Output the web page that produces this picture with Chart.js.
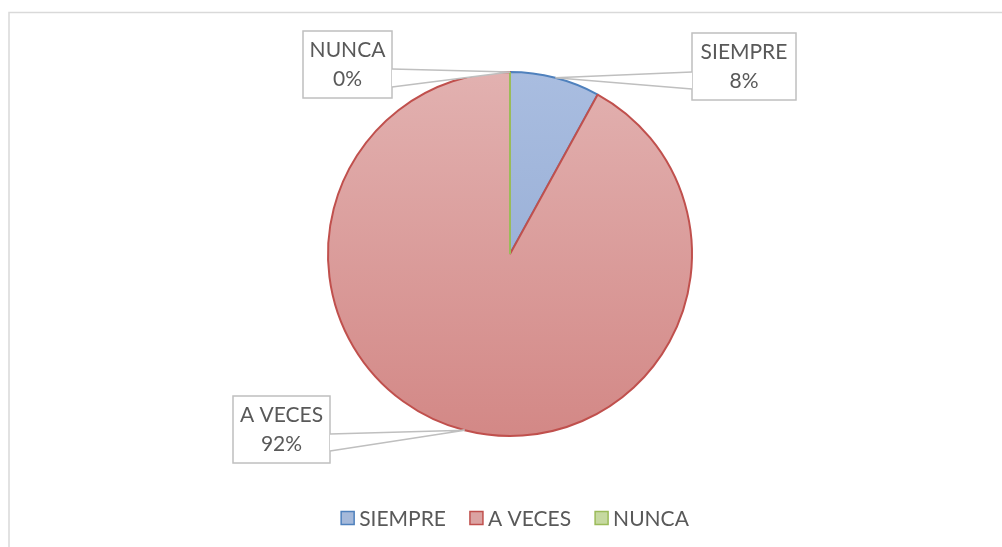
<!DOCTYPE html>
<html><head><meta charset="utf-8">
<script src="https://cdn.jsdelivr.net/npm/chart.js@4.4.0/dist/chart.umd.min.js"></script>
<style>html,body{margin:0;padding:0;background:#fff;} canvas{display:block;}</style>
</head><body>
<canvas id="c" width="1002" height="547"></canvas>
<script>
// ---- data ----
const categories = ['SIEMPRE', 'A VECES', 'NUNCA'];
const values = [2, 23, 0];

// ---- styles ----
const borderColors = ['#4f81bd', '#c0504d', '#9bbb59'];
const gradTop = ['#a9bde0', '#e2b1b0', '#d3e3b4'];
const gradBottom = ['#8ea6d0', '#d38886', '#b3cc80'];
const legendFill = ['#a5b9da', '#dba3a2', '#c6d9a0'];
const FONT = '"Lato", "Open Sans", sans-serif';
const TEXT_COLOR = '#595959';
const LABEL_SIZE = 21;
const PIE_RADIUS = 182;

// callout box layout (pixels), per category index
const calloutLayout = [
  {x: 692, y: 33, w: 104, h: 67, side: 'left', a: 72, b: 89},
  {x: 233, y: 396, w: 97, h: 67, side: 'right', a: 434, b: 451},
  {x: 303, y: 31, w: 89, h: 67, side: 'right', a: 69, b: 87}
];

function sliceFill(ctx) {
  const i = ctx.dataIndex;
  const chart = ctx.chart;
  const ca = chart.chartArea;
  if (!ca || i === undefined) return gradTop[i || 0];
  const cy = (ca.top + ca.bottom) / 2;
  const g = chart.ctx.createLinearGradient(0, cy - PIE_RADIUS, 0, cy + PIE_RADIUS);
  g.addColorStop(0, gradTop[i]);
  g.addColorStop(1, gradBottom[i]);
  return g;
}

const framePlugin = {
  id: 'frame',
  beforeDraw(chart) {
    const c = chart.ctx;
    c.save();
    c.fillStyle = '#ffffff';
    c.fillRect(0, 0, chart.width, chart.height);
    c.strokeStyle = '#d9d9d9';
    c.lineWidth = 1.5;
    c.beginPath();
    c.moveTo(9, chart.height + 2);
    c.lineTo(9, 12.5);
    c.lineTo(chart.width + 2, 12.5);
    c.stroke();
    c.restore();
  }
};

const zeroSlicePlugin = {
  id: 'zeroSlices',
  afterDatasetsDraw(chart) {
    const meta = chart.getDatasetMeta(0);
    const c = chart.ctx;
    meta.data.forEach((arc, i) => {
      if (values[i] !== 0) return;
      const p = arc.getProps(['x', 'y', 'startAngle', 'outerRadius'], true);
      c.save();
      c.strokeStyle = borderColors[i];
      c.lineWidth = 2;
      c.beginPath();
      c.moveTo(p.x, p.y);
      c.lineTo(p.x + Math.cos(p.startAngle) * p.outerRadius, p.y + Math.sin(p.startAngle) * p.outerRadius);
      c.stroke();
      c.restore();
    });
  }
};

const calloutPlugin = {
  id: 'callouts',
  afterDraw(chart) {
    const meta = chart.getDatasetMeta(0);
    const c = chart.ctx;
    const total = values.reduce((s, v) => s + v, 0);
    meta.data.forEach((arc, i) => {
      const p = arc.getProps(['x', 'y', 'startAngle', 'endAngle', 'outerRadius'], true);
      const mid = (p.startAngle + p.endAngle) / 2;
      const tx = p.x + Math.cos(mid) * p.outerRadius;
      const ty = p.y + Math.sin(mid) * p.outerRadius;
      const L = calloutLayout[i];
      const ex = L.side === 'left' ? L.x : L.x + L.w;
      c.save();
      c.lineWidth = 1.5;
      c.strokeStyle = '#bfbfbf';
      c.fillStyle = '#ffffff';
      c.fillRect(L.x, L.y, L.w, L.h);
      c.strokeRect(L.x, L.y, L.w, L.h);
      c.beginPath();
      c.moveTo(ex, L.a);
      c.lineTo(tx, ty);
      c.lineTo(ex, L.b);
      c.closePath();
      c.fill();
      c.beginPath();
      c.moveTo(ex, L.a); c.lineTo(tx, ty);
      c.moveTo(ex, L.b); c.lineTo(tx, ty);
      c.stroke();
      c.fillStyle = TEXT_COLOR;
      c.font = LABEL_SIZE + 'px ' + FONT;
      c.textAlign = 'center';
      c.textBaseline = 'middle';
      const cx = L.x + L.w / 2;
      const cyy = L.y + L.h / 2;
      c.fillText(categories[i], cx, cyy - 14);
      c.fillText(Math.round(values[i] / total * 100) + '%', cx, cyy + 15);
      c.restore();
    });
  }
};

const legendPlugin = {
  id: 'customLegend',
  afterDraw(chart) {
    const c = chart.ctx;
    c.save();
    c.font = LABEL_SIZE + 'px ' + FONT;
    const box = 13, gapText = 5, gapItem = 24;
    const widths = categories.map(t => c.measureText(t).width);
    let totalW = 0;
    widths.forEach((w, i) => { totalW += box + gapText + w + (i < widths.length - 1 ? gapItem : 0); });
    const ca = chart.chartArea;
    let x = (ca.left + ca.right) / 2 + 5 - totalW / 2;
    const y = 518;
    c.textBaseline = 'middle';
    c.textAlign = 'left';
    categories.forEach((t, i) => {
      c.fillStyle = legendFill[i];
      c.fillRect(x, y - box / 2, box, box);
      c.strokeStyle = borderColors[i];
      c.lineWidth = 1.5;
      c.strokeRect(x, y - box / 2, box, box);
      c.fillStyle = TEXT_COLOR;
      c.fillText(t, x + box + gapText, y + 1);
      x += box + gapText + widths[i] + gapItem;
    });
    c.restore();
  }
};

new Chart(document.getElementById('c'), {
  type: 'pie',
  data: {
    labels: categories,
    datasets: [{
      data: values,
      backgroundColor: sliceFill,
      borderColor: borderColors,
      borderWidth: 2,
      hoverOffset: 0
    }]
  },
  options: {
    responsive: false,
    devicePixelRatio: 1,
    animation: false,
    radius: PIE_RADIUS,
    layout: {padding: {left: 20, right: 2, top: 20, bottom: 59}},
    plugins: {
      legend: {display: false},
      tooltip: {enabled: false}
    }
  },
  plugins: [framePlugin, zeroSlicePlugin, calloutPlugin, legendPlugin]
});
</script>
</body></html>
